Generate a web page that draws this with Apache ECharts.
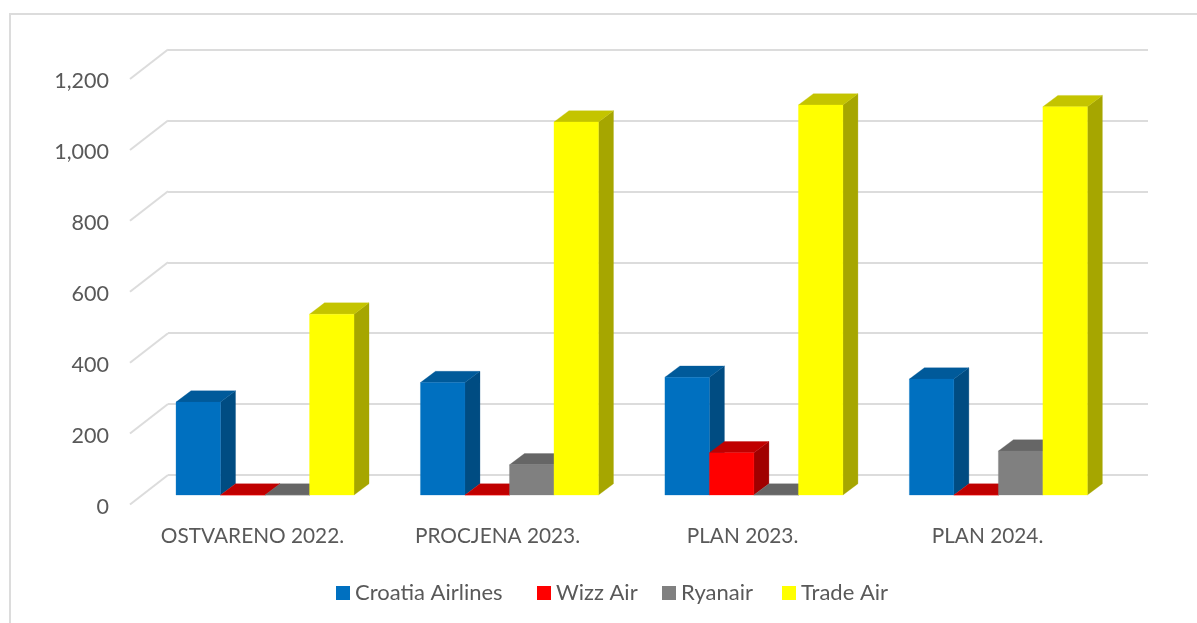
<!DOCTYPE html>
<html>
<head>
<meta charset="utf-8">
<style>html,body{margin:0;padding:0;background:#fff}#c{width:1197px;height:623px}</style>
<script src="https://cdn.jsdelivr.net/npm/echarts@6/dist/echarts.min.js"></script>
</head>
<body>
<div id="c"></div>
<script>
const categories = ['OSTVARENO 2022.', 'PROCJENA 2023.', 'PLAN 2023.', 'PLAN 2024.'];
const croatiaAirlines = [262, 317, 332, 327];
const wizzAir = [0, 0, 119, 0];
const ryanair = [0, 85, 0, 124];
const tradeAir = [510, 1052, 1100, 1095];
const yTicks = [0, 200, 400, 600, 800, 1000, 1200];

const seriesNames = ['Croatia Airlines', 'Wizz Air', 'Ryanair', 'Trade Air'];
const seriesValues = [croatiaAirlines, wizzAir, ryanair, tradeAir];
const fronts = ['#0070C0', '#FF0000', '#808080', '#FFFF00'];
const tops = ['#005A9A', '#C00000', '#666666', '#C4C400'];
const sides = ['#004C82', '#A00000', '#5A5A5A', '#A6A600'];
const legendLefts = [336, 537, 662, 782];

const FONT = 'Lato';
const TEXT = '#595959';
const GRID_LINE = '#DCDCDC';
const BAR_W = 44.5, DEPTH_X = 15, DEPTH_Y = 11.3;
const SHIFT_X = -25.5, SHIFT_Y = 20;

function barRenderer(idx) {
  return function (params, api) {
    const cat = api.value(0), v = api.value(1);
    const cx = api.coord([cat, 0])[0];
    const x0 = cx + SHIFT_X - 2 * BAR_W + idx * BAR_W;
    const x1 = x0 + BAR_W;
    const yb = api.coord([cat, 0])[1] + SHIFT_Y;
    const yt = api.coord([cat, v])[1] + SHIFT_Y;
    const poly = (pts, fill) => ({
      type: 'polygon', shape: { points: pts },
      style: { fill: fill, stroke: fill, lineWidth: 0.3 }
    });
    return {
      type: 'group',
      children: [
        poly([[x1, yt], [x1 + DEPTH_X, yt - DEPTH_Y], [x1 + DEPTH_X, yb - DEPTH_Y], [x1, yb]], sides[idx]),
        poly([[x0, yt], [x0 + DEPTH_X, yt - DEPTH_Y], [x1 + DEPTH_X, yt - DEPTH_Y], [x1, yt]], tops[idx]),
        poly([[x0, yt], [x1, yt], [x1, yb], [x0, yb]], fronts[idx])
      ]
    };
  };
}

function wallEdge(params, api) {
  const v = api.value(1);
  const p = api.coord([0, v]);
  const left = p[0] - api.size([1, 0])[0] / 2;
  return {
    type: 'line',
    shape: { x1: left, y1: p[1], x2: left - 38, y2: p[1] + 29.5 },
    style: { stroke: GRID_LINE, lineWidth: 2 }
  };
}

const hiddenX = { type: 'category', data: categories, axisLine: { show: false }, axisTick: { show: false }, axisLabel: { show: false } };
const hiddenY = { type: 'value', min: 0, max: 1200, interval: 200, axisLabel: { show: false }, axisLine: { show: false }, axisTick: { show: false }, splitLine: { show: false } };

const chart = echarts.init(document.getElementById('c'));
chart.setOption({
  animation: false,
  backgroundColor: '#fff',
  graphic: [{
    type: 'polyline', silent: true,
    shape: { points: [[10, 623], [10, 14], [1197, 14]] },
    style: { fill: null, stroke: GRID_LINE, lineWidth: 2 }
  }],
  legend: seriesNames.map((name, i) => ({
    data: [name], top: 582, left: legendLefts[i],
    icon: 'rect', itemWidth: 14, itemHeight: 14, padding: 0,
    textStyle: { color: TEXT, fontFamily: FONT, fontSize: 22 },
    selectedMode: false
  })),
  grid: [
    { left: 168, top: 49.5, width: 980, height: 425.5 },
    { left: 130, top: 81.5, width: 980, height: 425.5 },
    { left: 168.3, top: 49.5, width: 977.8, height: 425.5 }
  ],
  xAxis: [
    Object.assign({}, hiddenX, { gridIndex: 0 }),
    { type: 'category', gridIndex: 1, data: categories, axisLine: { show: false }, axisTick: { show: false },
      axisLabel: { margin: 18.5, color: TEXT, fontFamily: FONT, fontSize: 20.8 } },
    Object.assign({}, hiddenX, { gridIndex: 2 })
  ],
  yAxis: [
    Object.assign({}, hiddenY, { gridIndex: 0, splitLine: { show: true, lineStyle: { color: GRID_LINE, width: 2 } } }),
    { type: 'value', gridIndex: 1, min: 0, max: 1200, interval: 200,
      axisLine: { show: false }, axisTick: { show: false }, splitLine: { show: false },
      axisLabel: { margin: 21, color: TEXT, fontFamily: FONT, fontSize: 21.5,
        formatter: v => v.toLocaleString('en-US') } },
    Object.assign({}, hiddenY, { gridIndex: 2 })
  ],
  series: [
    { type: 'custom', name: 'axisEdges', xAxisIndex: 0, yAxisIndex: 0, silent: true, clip: false, z: 1,
      renderItem: wallEdge, data: yTicks.map(v => [0, v]) }
  ].concat(seriesNames.map((name, i) => ({
    type: 'custom', name: name, xAxisIndex: 2, yAxisIndex: 2, clip: false, z: 3 + i,
    itemStyle: { color: fronts[i] },
    renderItem: barRenderer(i),
    data: seriesValues[i].map((v, c) => [c, v])
  })))
});
</script>
</body>
</html>
